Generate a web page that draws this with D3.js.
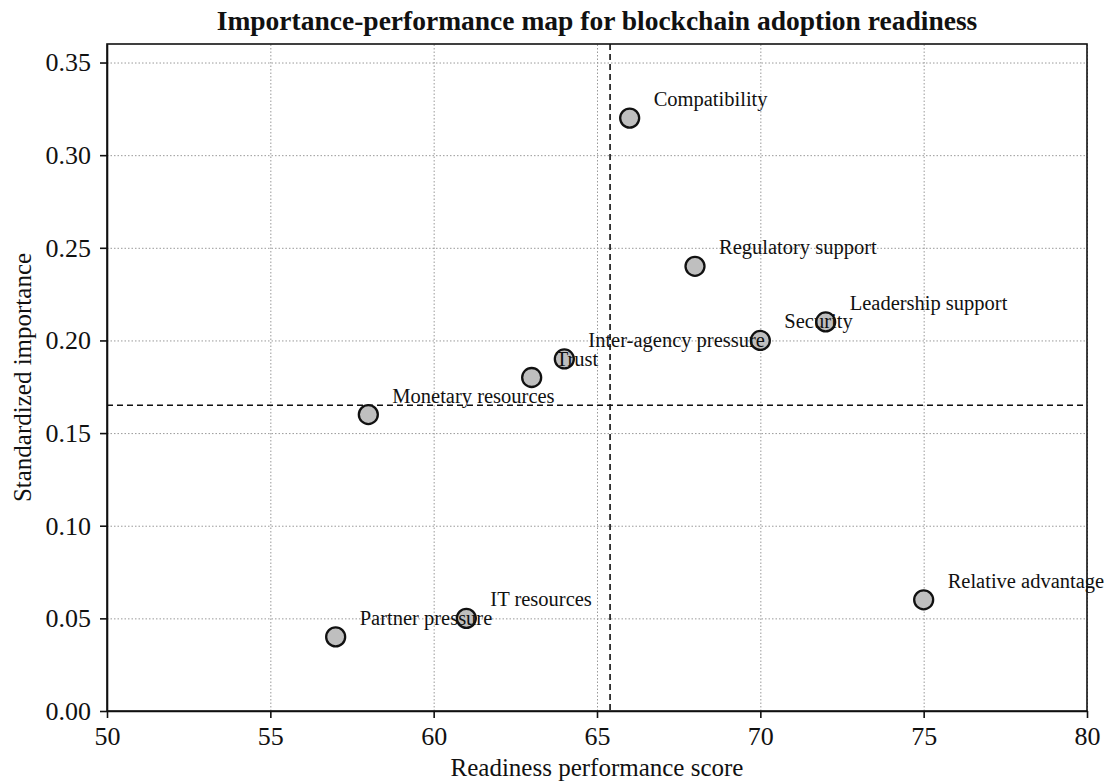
<!DOCTYPE html>
<html>
<head>
<meta charset="utf-8">
<script src="https://cdn.jsdelivr.net/npm/d3@7"></script>
<style>
  body { margin: 0; background: #fff; }
  text { font-family: "Liberation Serif", "Times New Roman", serif; fill: #111; }
  .grid line { stroke: #999; stroke-dasharray: 1.5,2; stroke-width: 1; }
  .grid path { display: none; }
  .axis path, .axis line { stroke: #111; stroke-width: 1.6; }
</style>
</head>
<body>
<div id="chart"></div>
<script>
var svgWidth = 1106;
var svgHeight = 781;

var margin = { top: 44, right: 19, bottom: 70, left: 107 };
var width = svgWidth - margin.left - margin.right;
var height = svgHeight - margin.top - margin.bottom;

// data
var factors = ["Compatibility", "Regulatory support", "Leadership support", "Security",
  "Inter-agency pressure", "Trust", "Monetary resources", "Relative advantage",
  "IT resources", "Partner pressure"];
var performance = [66, 68, 72, 70, 64, 63, 58, 75, 61, 57];
var importance = [0.32, 0.24, 0.21, 0.20, 0.19, 0.18, 0.16, 0.06, 0.05, 0.04];
var xTicks = [50, 55, 60, 65, 70, 75, 80];
var yTicks = [0.00, 0.05, 0.10, 0.15, 0.20, 0.25, 0.30, 0.35];

var pts = factors.map(function(f, i) {
  return { name: f, x: performance[i], y: importance[i] };
});
var meanX = d3.mean(performance);
var meanY = d3.mean(importance);

var svg = d3.select("#chart")
  .append("svg")
  .attr("width", svgWidth)
  .attr("height", svgHeight);

var chartGroup = svg.append("g")
  .attr("transform", `translate(${margin.left}, ${margin.top})`);

var xScale = d3.scaleLinear().domain([50, 80]).range([0, width]);
var yScale = d3.scaleLinear().domain([0, 0.36]).range([height, 0]);

// grid
chartGroup.append("g")
  .attr("class", "grid")
  .attr("transform", `translate(0, ${height})`)
  .call(d3.axisBottom(xScale).tickValues(xTicks).tickSize(-height).tickFormat(""));
chartGroup.append("g")
  .attr("class", "grid")
  .call(d3.axisLeft(yScale).tickValues(yTicks).tickSize(-width).tickFormat(""));

// mean lines
chartGroup.append("line")
  .attr("x1", xScale(meanX)).attr("x2", xScale(meanX))
  .attr("y1", 0).attr("y2", height)
  .attr("stroke", "#111").attr("stroke-width", 1.6)
  .attr("stroke-dasharray", "6,4");
chartGroup.append("line")
  .attr("x1", 0).attr("x2", width)
  .attr("y1", yScale(meanY)).attr("y2", yScale(meanY))
  .attr("stroke", "#111").attr("stroke-width", 1.6)
  .attr("stroke-dasharray", "6,4");

// axes
var xAxis = chartGroup.append("g")
  .attr("class", "axis")
  .attr("transform", `translate(0, ${height})`)
  .call(d3.axisBottom(xScale).tickValues(xTicks).tickSize(7).tickPadding(7).tickSizeOuter(0));
xAxis.selectAll("text")
  .attr("font-size", "26px")
  .attr("font-family", "'Liberation Serif', serif")
  .attr("dy", "0.76em");

var yAxis = chartGroup.append("g")
  .attr("class", "axis")
  .call(d3.axisLeft(yScale).tickValues(yTicks).tickFormat(d3.format(".2f")).tickSize(7).tickPadding(9).tickSizeOuter(0));
yAxis.selectAll("text")
  .attr("font-size", "26px")
  .attr("font-family", "'Liberation Serif', serif");

// frame
chartGroup.append("rect")
  .attr("width", width).attr("height", height)
  .attr("fill", "none").attr("stroke", "#111").attr("stroke-width", 1.6);

// points
chartGroup.selectAll("circle")
  .data(pts)
  .enter()
  .append("circle")
  .attr("cx", d => xScale(d.x))
  .attr("cy", d => yScale(d.y))
  .attr("r", 9.5)
  .attr("fill", "#bfbfbf")
  .attr("stroke", "#111")
  .attr("stroke-width", 2.3);

// labels
chartGroup.selectAll(".ptLabel")
  .data(pts)
  .enter()
  .append("text")
  .attr("class", "ptLabel")
  .attr("x", d => xScale(d.x) + 24)
  .attr("y", d => yScale(d.y) - 12)
  .attr("font-size", "20.5px")
  .text(d => d.name);

// title + axis labels
svg.append("text")
  .attr("x", margin.left + width / 2)
  .attr("y", 30)
  .attr("text-anchor", "middle")
  .attr("font-size", "27.5px")
  .attr("font-weight", "bold")
  .text("Importance-performance map for blockchain adoption readiness");

svg.append("text")
  .attr("x", margin.left + width / 2)
  .attr("y", 776)
  .attr("text-anchor", "middle")
  .attr("font-size", "25px")
  .text("Readiness performance score");

svg.append("text")
  .attr("transform", `translate(31, ${margin.top + height / 2}) rotate(-90)`)
  .attr("text-anchor", "middle")
  .attr("font-size", "25px")
  .text("Standardized importance");
</script>
</body>
</html>
